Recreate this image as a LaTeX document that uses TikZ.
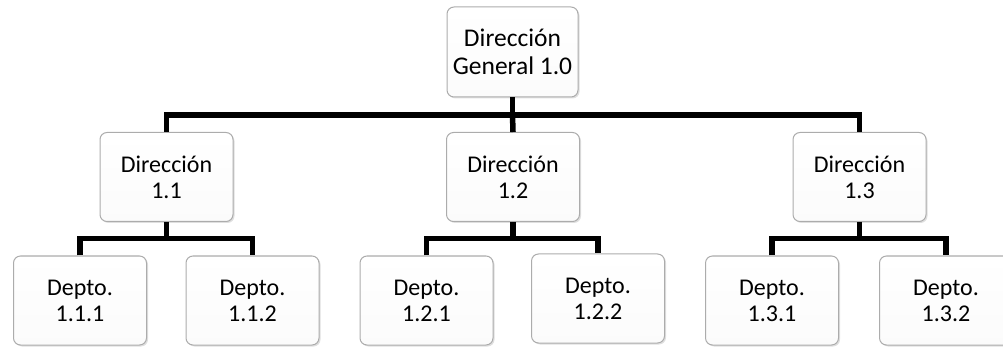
\documentclass[tikz,border=0pt]{standalone}
\usepackage{fontspec}
\setmainfont{Carlito}
\usetikzlibrary{shadows}
\begin{document}
\begin{tikzpicture}[x=1pt,y=1pt,
  box/.style={draw=gray!65, line width=1pt, rounded corners=7pt,
    top color=white, bottom color=gray!3,
    drop shadow={shadow xshift=1.5pt, shadow yshift=-1.5pt, opacity=0.25, fill=gray},
    minimum width=133pt, minimum height=89pt, align=center,
    font=\fontsize{24}{26}\selectfont, inner sep=0pt},
  conn/.style={line width=5.5pt, black}]
\useasboundingbox (0,0) rectangle (1003,-347);
% level 1
\node[box, minimum width=131pt, minimum height=90pt, font=\fontsize{25.5}{28}\selectfont] (top) at (512.5,-52) {Dirección\\General 1.0};
% level 2
\node[box] (d1) at (166.5,-177) {Dirección\\1.1};
\node[box] (d2) at (513,-177) {Dirección\\1.2};
\node[box] (d3) at (859.5,-177) {Dirección\\1.3};
% level 3
\node[box] (p111) at (80,-300.5) {Depto.\\1.1.1};
\node[box] (p112) at (252.5,-300.5) {Depto.\\1.1.2};
\node[box] (p121) at (426.5,-300.5) {Depto.\\1.2.1};
\node[box] (p122) at (598,-298.5) {Depto.\\1.2.2};
\node[box] (p131) at (772,-300.5) {Depto.\\1.3.1};
\node[box] (p132) at (946,-300.5) {Depto.\\1.3.2};
% hubs
\coordinate (h0) at (512.5,-115);
\coordinate (h1) at (166.5,-238.5);
\coordinate (h2) at (513,-238.5);
\coordinate (h3) at (859.5,-238.5);
% connectors
\draw[conn] (top.south) -- (h0);
\draw[conn] (d1.north) |- (h0) -| (d3.north);
\draw[conn] (h0) -- (d2.north);
\draw[conn] (d1.south) -- (h1);
\draw[conn] (p111.north) |- (h1) -| (p112.north);
\draw[conn] (d2.south) -- (h2);
\draw[conn] (p121.north) |- (h2) -| (p122.north);
\draw[conn] (d3.south) -- (h3);
\draw[conn] (p131.north) |- (h3) -| (p132.north);
\end{tikzpicture}
\end{document}
